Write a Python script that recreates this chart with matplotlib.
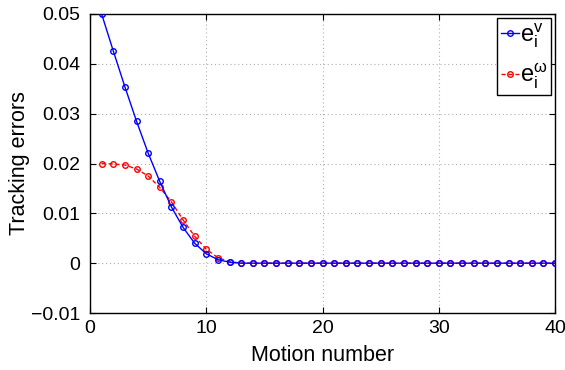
import matplotlib
matplotlib.use("Agg")
import matplotlib.pyplot as plt
import numpy as np

plt.rcParams['font.family'] = ['Liberation Sans', 'DejaVu Sans']
plt.rcParams['mathtext.fontset'] = 'custom'
plt.rcParams['mathtext.rm'] = 'Liberation Sans'
plt.rcParams['mathtext.it'] = 'Liberation Sans'

motion = list(range(1, 41))
err_v = [0.0500, 0.0426, 0.0354, 0.0285, 0.0221, 0.0164, 0.0113, 0.0072, 0.0040, 0.0019,
         0.0007, 0.0002] + [0.0] * 28
err_w = [0.0200, 0.0199, 0.0197, 0.0189, 0.0175, 0.0152, 0.0123, 0.0087, 0.0054, 0.0028,
         0.0011, 0.0003] + [0.0] * 28
xticks = [0, 10, 20, 30, 40]
yticks = [-0.01, 0, 0.01, 0.02, 0.03, 0.04, 0.05]
ytick_labels = ['\u22120.01', '0', '0.01', '0.02', '0.03', '0.04', '0.05']

fig = plt.figure(figsize=(5.65, 3.70), dpi=100)
ax = fig.add_axes([90/565, 57/370, 465/565, 299/370])

ax.plot(motion, err_v, '-o', color='#0000ff', lw=1.0, ms=4, mfc='none', mew=1.0,
        label=r'$\mathrm{e}_\mathrm{i}^\mathrm{v}$', zorder=3)
ax.plot(motion, err_w, '--o', color='#ff0000', lw=1.0, ms=4, mfc='none', mew=1.0,
        dashes=(3, 2), label=r'$\mathrm{e}_\mathrm{i}^{\omega}$', zorder=2)

ax.set_xlim(0, 40)
ax.set_ylim(-0.01, 0.05)
ax.set_xticks(xticks)
ax.set_xticklabels([str(t) for t in xticks])
ax.set_yticks(yticks)
ax.set_yticklabels(ytick_labels)
ax.tick_params(direction='in', length=4, labelsize=14, top=True, right=True, width=0.8)
ax.tick_params(axis='x', pad=5)
ax.tick_params(axis='y', pad=7)
ax.grid(True, linestyle=(0, (1, 2.5)), color='#b0b0b0', linewidth=0.8)
for s in ax.spines.values():
    s.set_linewidth(1.0)

ax.set_xlabel('Motion number', fontsize=15.5, labelpad=6)
ax.set_ylabel('Tracking errors', fontsize=15.5, labelpad=1)

leg = ax.legend(loc='upper right', fontsize=17, handlelength=0.75, handletextpad=0.08,
                borderpad=0.15, labelspacing=0.5, fancybox=False, framealpha=1,
                edgecolor='black', markerscale=1.0, numpoints=1,
                borderaxespad=0.15)
leg.get_frame().set_linewidth(1.0)

fig.savefig('out.png', dpi=100)
